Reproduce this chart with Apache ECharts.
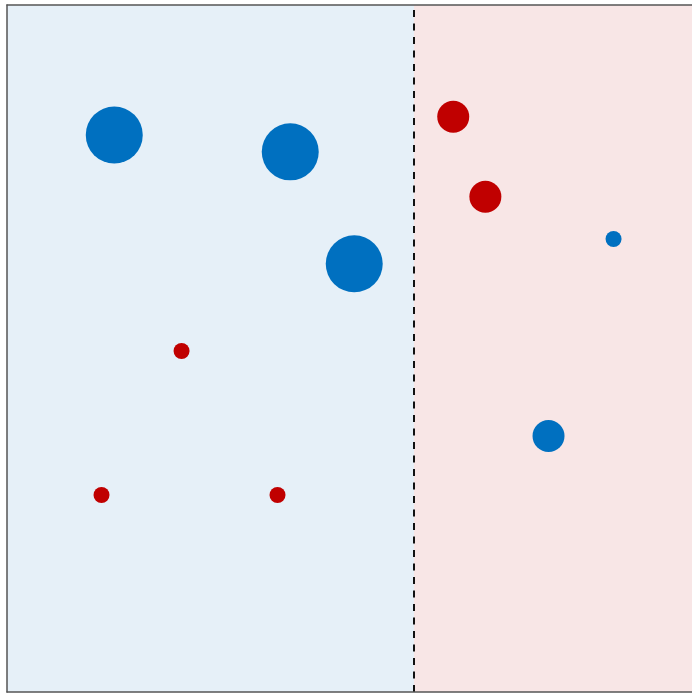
<!DOCTYPE html>
<html>
<head>
<meta charset="utf-8">
<script src="https://cdn.jsdelivr.net/npm/echarts@6/dist/echarts.min.js"></script>
<style>html,body{margin:0;padding:0;background:#fff;overflow:hidden;}#c{width:700px;height:693px;}</style>
</head>
<body>
<div id="c"></div>
<script>
// Blue points
var blueX = [15.59, 41.17, 50.47, 88.16, 78.71];
var blueY = [81.08, 78.63, 62.33, 65.94, 37.26];
var blueSize = [57, 57, 57, 16, 32];
// Red points
var redX = [25.37, 13.74, 39.32, 64.86, 69.53];
var redY = [49.64, 28.68, 28.68, 83.74, 72.08];
var redSize = [16, 16, 16, 32, 32];
// Divider and domain
var divider = 59.16;
var xRange = [0, 100];
var yRange = [0, 100];

function pts(xs, ys, ss) { return xs.map(function (x, i) { return [x, ys[i], ss[i]]; }); }

var frame = { show: true, onZero: false, lineStyle: { color: '#555', width: 1.5 } };
var chart = echarts.init(document.getElementById('c'), null, { renderer: 'canvas' });
chart.setOption({
  animation: false,
  grid: { left: 7, top: 5, right: 5, bottom: 1, show: false },
  xAxis: [
    { type: 'value', position: 'bottom', min: xRange[0], max: xRange[1], axisLine: frame, axisTick: { show: false }, axisLabel: { show: false }, splitLine: { show: false }, z: 10 },
    { type: 'value', position: 'top', min: xRange[0], max: xRange[1], axisLine: frame, axisTick: { show: false }, axisLabel: { show: false }, splitLine: { show: false }, z: 10 }
  ],
  yAxis: { type: 'value', position: 'left', min: yRange[0], max: yRange[1], axisLine: frame, axisTick: { show: false }, axisLabel: { show: false }, splitLine: { show: false }, z: 10 },
  series: [
    {
      type: 'scatter',
      data: pts(blueX, blueY, blueSize),
      symbolSize: function (d) { return d[2]; },
      itemStyle: { color: '#0070C0', opacity: 1 },
      z: 3,
      markArea: {
        silent: true,
        z: 1,
        data: [
          [{ xAxis: xRange[0], itemStyle: { color: '#E6F0F8' } }, { xAxis: divider }],
          [{ xAxis: divider, itemStyle: { color: '#F8E6E6' } }, { xAxis: xRange[1] }]
        ]
      },
      markLine: {
        silent: true,
        symbol: 'none',
        label: { show: false },
        lineStyle: { color: '#111', type: [7, 6.5], width: 2 },
        data: [{ xAxis: divider }]
      }
    },
    {
      type: 'scatter',
      data: pts(redX, redY, redSize),
      symbolSize: function (d) { return d[2]; },
      itemStyle: { color: '#C00000', opacity: 1 },
      z: 3
    }
  ]
});
</script>
</body>
</html>
